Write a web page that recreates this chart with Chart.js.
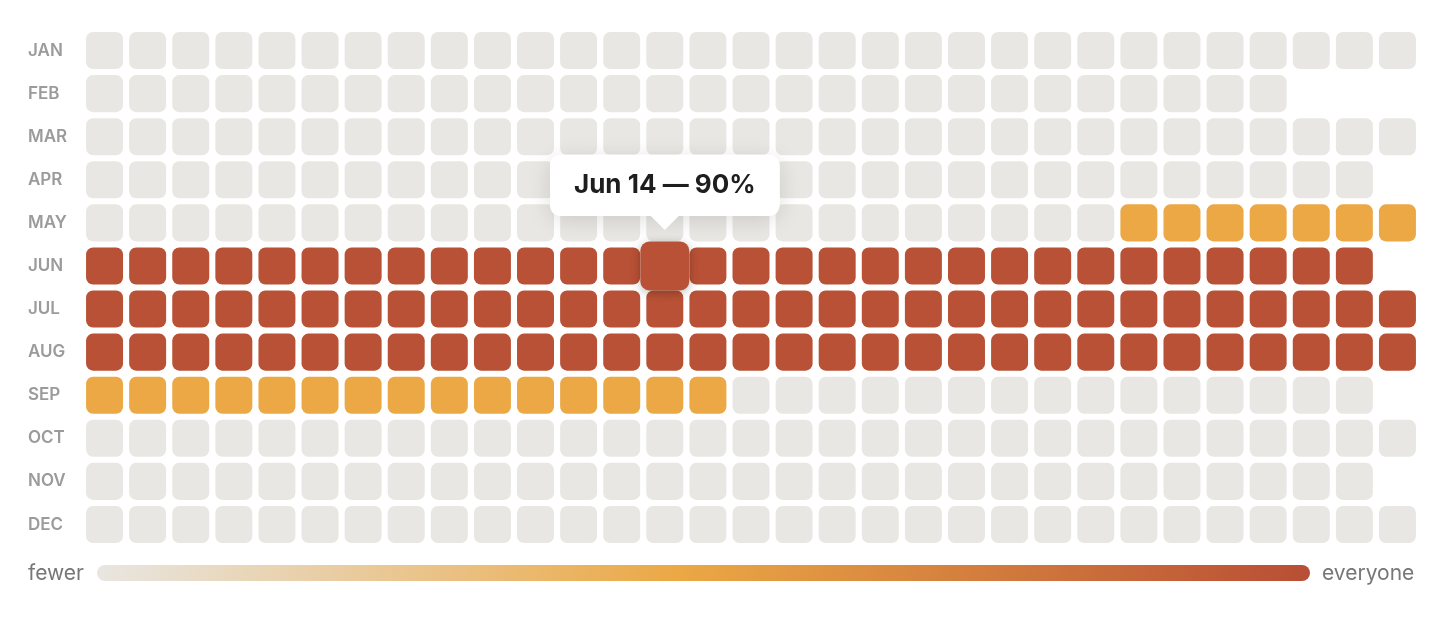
<!DOCTYPE html>
<html>
<head>
<meta charset="utf-8">
<script src="https://cdn.jsdelivr.net/npm/chart.js@4.4.1/dist/chart.umd.min.js"></script>
<style>
  html, body { margin: 0; padding: 0; background: #fff; }
  #wrap { position: relative; width: 1456px; height: 624px; }
  #legend { position: absolute; left: 0; top: 560px; width: 1456px; height: 26px; font-family: Inter, sans-serif; color: #777; font-size: 21px; }
  #legend .lo { position: absolute; left: 28px; top: 0; line-height: 26px; }
  #legend .hi { position: absolute; left: 1322px; top: 0; line-height: 26px; }
  #legend .bar { position: absolute; left: 97px; top: 5px; width: 1213px; height: 16px; border-radius: 8px; }
</style>
</head>
<body>
<div id="wrap">
  <canvas id="heat"></canvas>
  <div id="legend"><span class="lo">fewer</span><div class="bar"></div><span class="hi">everyone</span></div>
</div>
<script>
// ===== Share of people on holiday, by day of year =====

const MONTHS = ['JAN', 'FEB', 'MAR', 'APR', 'MAY', 'JUN', 'JUL', 'AUG', 'SEP', 'OCT', 'NOV', 'DEC'];
const MONTH_NAMES = ['Jan', 'Feb', 'Mar', 'Apr', 'May', 'Jun', 'Jul', 'Aug', 'Sep', 'Oct', 'Nov', 'Dec'];
const DAYS = ['1', '2', '3', '4', '5', '6', '7', '8', '9', '10', '11', '12', '13', '14', '15', '16',
  '17', '18', '19', '20', '21', '22', '23', '24', '25', '26', '27', '28', '29', '30', '31'];

// percent per day
const JAN = [5, 5, 5, 5, 5, 5, 5, 5, 5, 5, 5, 5, 5, 5, 5, 5, 5, 5, 5, 5, 5, 5, 5, 5, 5, 5, 5, 5, 5, 5, 5];
const FEB = [5, 5, 5, 5, 5, 5, 5, 5, 5, 5, 5, 5, 5, 5, 5, 5, 5, 5, 5, 5, 5, 5, 5, 5, 5, 5, 5, 5];
const MAR = [5, 5, 5, 5, 5, 5, 5, 5, 5, 5, 5, 5, 5, 5, 5, 5, 5, 5, 5, 5, 5, 5, 5, 5, 5, 5, 5, 5, 5, 5, 5];
const APR = [5, 5, 5, 5, 5, 5, 5, 5, 5, 5, 5, 5, 5, 5, 5, 5, 5, 5, 5, 5, 5, 5, 5, 5, 5, 5, 5, 5, 5, 5];
const MAY = [5, 5, 5, 5, 5, 5, 5, 5, 5, 5, 5, 5, 5, 5, 5, 5, 5, 5, 5, 5, 5, 5, 5, 5, 50, 50, 50, 50, 50, 50, 50];
const JUN = [90, 90, 90, 90, 90, 90, 90, 90, 90, 90, 90, 90, 90, 90, 90, 90, 90, 90, 90, 90, 90, 90, 90, 90, 90, 90, 90, 90, 90, 90];
const JUL = [90, 90, 90, 90, 90, 90, 90, 90, 90, 90, 90, 90, 90, 90, 90, 90, 90, 90, 90, 90, 90, 90, 90, 90, 90, 90, 90, 90, 90, 90, 90];
const AUG = [90, 90, 90, 90, 90, 90, 90, 90, 90, 90, 90, 90, 90, 90, 90, 90, 90, 90, 90, 90, 90, 90, 90, 90, 90, 90, 90, 90, 90, 90, 90];
const SEP = [50, 50, 50, 50, 50, 50, 50, 50, 50, 50, 50, 50, 50, 50, 50, 5, 5, 5, 5, 5, 5, 5, 5, 5, 5, 5, 5, 5, 5, 5];
const OCT = [5, 5, 5, 5, 5, 5, 5, 5, 5, 5, 5, 5, 5, 5, 5, 5, 5, 5, 5, 5, 5, 5, 5, 5, 5, 5, 5, 5, 5, 5, 5];
const NOV = [5, 5, 5, 5, 5, 5, 5, 5, 5, 5, 5, 5, 5, 5, 5, 5, 5, 5, 5, 5, 5, 5, 5, 5, 5, 5, 5, 5, 5, 5];
const DEC = [5, 5, 5, 5, 5, 5, 5, 5, 5, 5, 5, 5, 5, 5, 5, 5, 5, 5, 5, 5, 5, 5, 5, 5, 5, 5, 5, 5, 5, 5, 5];
const VALUES = [JAN, FEB, MAR, APR, MAY, JUN, JUL, AUG, SEP, OCT, NOV, DEC];

const HIGHLIGHT = { month: 5, day: 14 };

// colour bins
const LEVELS = [20, 70];
const CELL_COLORS = ['#E9E7E3', '#EBA845', '#B85135'];
const RAMP = ['#E8E6E2', '#EBA845', '#B84E35'];

document.querySelector('#legend .bar').style.background =
  `linear-gradient(90deg, ${RAMP[0]} 0%, ${RAMP[1]} 48%, ${RAMP[2]} 100%)`;

function colorFor(v) {
  if (v == null) return 'rgba(0,0,0,0)';
  let i = 0;
  while (i < LEVELS.length && v >= LEVELS[i]) i++;
  return CELL_COLORS[i];
}

function rr(ctx, x, y, w, h, r) {
  ctx.beginPath();
  ctx.roundRect(x, y, w, h, r);
}

const HALF = 0.43;

const datasets = MONTHS.map((m, mi) => ({
  label: m,
  data: DAYS.map((d, di) => VALUES[mi][di] == null ? null : [mi - HALF, mi + HALF]),
  backgroundColor: ctx => colorFor(VALUES[ctx.datasetIndex][ctx.dataIndex]),
  hoverBackgroundColor: ctx => colorFor(VALUES[ctx.datasetIndex][ctx.dataIndex]),
  borderWidth: 0,
  borderRadius: 7,
  borderSkipped: false,
  grouped: false,
  barPercentage: 0.858,
  categoryPercentage: 1
}));

Chart.Tooltip.positioners.cellTop = function (items) {
  if (!items.length) return false;
  const el = items[0].element;
  return { x: el.x, y: Math.min(el.y, el.base) };
};

const popCell = {
  id: 'popCell',
  afterDatasetsDraw(chart) {
    const ctx = chart.ctx;
    chart.getActiveElements().forEach(a => {
      const el = chart.getDatasetMeta(a.datasetIndex).data[a.index];
      const h = Math.abs(el.base - el.y);
      const s = h * 1.32;
      const cx = el.x, cy = (el.y + el.base) / 2;
      ctx.save();
      ctx.shadowColor = 'rgba(0,0,0,0.28)';
      ctx.shadowBlur = 10;
      ctx.shadowOffsetY = 2;
      ctx.fillStyle = colorFor(VALUES[a.datasetIndex][a.index]);
      rr(ctx, cx - s / 2, cy - s / 2, s, s, 9);
      ctx.fill();
      ctx.restore();
    });
  },
  beforeTooltipDraw(chart, args) {
    const t = args.tooltip;
    const ctx = chart.ctx;
    ctx.save();
    ctx.shadowColor = 'rgba(0,0,0,0.13)';
    ctx.shadowBlur = 22;
    ctx.shadowOffsetY = 4;
    ctx.fillStyle = '#fff';
    rr(ctx, t.x, t.y, t.width, t.height, 12);
    ctx.fill();
    ctx.restore();
  }
};

const chart = new Chart(document.getElementById('heat'), {
  type: 'bar',
  data: { labels: DAYS, datasets },
  plugins: [popCell],
  options: {
    responsive: true, maintainAspectRatio: false, animation: false, events: [],
    layout: { padding: { left: 28, top: 29, right: 37, bottom: 78 } },
    plugins: {
      legend: { display: false },
      tooltip: {
        enabled: true, position: 'cellTop', xAlign: 'center', yAlign: 'bottom',
        backgroundColor: '#fff', titleColor: '#1e1e1e',
        titleFont: { family: 'Inter', weight: '700', size: 26 },
        titleMarginBottom: 0, padding: { x: 24, y: 15 },
        cornerRadius: 12, caretSize: 14, caretPadding: 17.5, displayColors: false,
        callbacks: {
          title: items => {
            const i = items[0];
            return `${MONTH_NAMES[i.datasetIndex]} ${DAYS[i.dataIndex]} — ${VALUES[i.datasetIndex][i.dataIndex]}%`;
          },
          label: () => ''
        }
      }
    },
    scales: {
      x: { display: false },
      y: {
        reverse: true, min: -0.5, max: 11.5,
        grid: { display: false }, border: { display: false },
        afterBuildTicks: s => { s.ticks = MONTHS.map((m, i) => ({ value: i })); },
        afterFit: s => { s.width = 55; },
        ticks: {
          crossAlign: 'far', padding: 0, autoSkip: false,
          color: '#9B9B9B', font: { family: 'Inter', weight: '600', size: 17 },
          callback: v => MONTHS[v]
        }
      }
    }
  }
});

const active = [{ datasetIndex: HIGHLIGHT.month, index: HIGHLIGHT.day - 1 }];
chart.setActiveElements(active);
chart.tooltip.setActiveElements(active, { x: 0, y: 0 });
chart.update();
</script>
</body>
</html>
